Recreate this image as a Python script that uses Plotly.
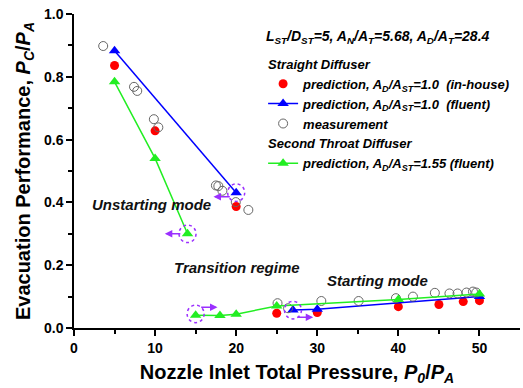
import plotly.graph_objects as go

# ---- data ----
red_x = [5, 10, 20, 25, 30, 40, 45, 48, 50]
red_y = [0.836, 0.628, 0.387, 0.047, 0.049, 0.068, 0.075, 0.084, 0.087]

blue_x = [5, 20, None, 27, 30, 50]
blue_y = [0.883, 0.431, None, 0.057, 0.060, 0.100]

meas_x = [3.6, 7.4, 7.8, 9.85, 10.4, 17.5, 17.8, 18.3, 19.95, 21.5,
          25.1, 26.4, 30.5, 35.1, 39.7, 41.8, 44.5, 46.3, 47.3, 48.4, 49.2, 49.6]
meas_y = [0.898, 0.768, 0.755, 0.665, 0.639, 0.454, 0.452, 0.437, 0.401, 0.376,
          0.079, 0.063, 0.086, 0.086, 0.095, 0.100, 0.112, 0.110, 0.110, 0.113, 0.116, 0.113]

green_x = [5, 10, 14, None, 15, 18, 20, 25, 40, 50]
green_y = [0.784, 0.540, 0.300, None, 0.041, 0.040, 0.044, 0.070, 0.091, 0.108]

# arrows: (tail_x, tail_y, head_x, head_y)
arrows = [(19.4, 0.418, 17.2, 0.418), (13.3, 0.300, 11.2, 0.300),
          (15.5, 0.066, 17.7, 0.066), (27.4, 0.034, 29.5, 0.034)]
# dotted circles around transition points: (x, y)
circles = [(20, 0.431), (14, 0.300), (15, 0.045), (27, 0.057)]

labels = [("Unstarting mode", 9.5, 0.392), ("Transition regime", 20.1, 0.194),
          ("Starting mode", 37.4, 0.15)]

FONT = "Liberation Sans, Arial, sans-serif"
PURPLE = "#9b30ff"

fig = go.Figure()
fig.add_trace(go.Scatter(x=red_x, y=red_y, mode="markers",
    marker=dict(symbol="circle", size=9, color="#ff0000"),
    name="prediction, A<sub>D</sub>/A<sub>ST</sub>=1.0&nbsp;&nbsp;(in-house)",
    legendgroup="sd", legendgrouptitle_text="Straight Diffuser"))
fig.add_trace(go.Scatter(x=blue_x, y=blue_y, mode="lines+markers",
    line=dict(color="#0000ff", width=1.5),
    marker=dict(symbol="triangle-up", size=10, color="#0000ff"),
    name="prediction, A<sub>D</sub>/A<sub>ST</sub>=1.0&nbsp;&nbsp;(fluent)",
    legendgroup="sd"))
fig.add_trace(go.Scatter(x=meas_x, y=meas_y, mode="markers",
    marker=dict(symbol="circle-open", size=9, color="#666666", line=dict(width=1)),
    name="measurement", legendgroup="sd"))
fig.add_trace(go.Scatter(x=green_x, y=green_y, mode="lines+markers",
    line=dict(color="#22ee22", width=1.5),
    marker=dict(symbol="triangle-up", size=10, color="#22ee22"),
    name="prediction, A<sub>D</sub>/A<sub>ST</sub>=1.55 (fluent)",
    legendgroup="st", legendgrouptitle_text="Second Throat Diffuser"))

for tx, ty, hx, hy in arrows:
    fig.add_annotation(x=hx, y=hy, ax=tx, ay=ty, xref="x", yref="y",
                       axref="x", ayref="y", text="", showarrow=True,
                       arrowhead=2, arrowsize=1, arrowwidth=1.5, arrowcolor=PURPLE)
for cx, cy in circles:
    fig.add_shape(type="circle", xref="x", yref="y",
                  x0=cx - 1.05, x1=cx + 1.05, y0=cy - 0.028, y1=cy + 0.028,
                  line=dict(color=PURPLE, width=1.5, dash="dot"))
for t, x, y in labels:
    fig.add_annotation(x=x, y=y, text=t, showarrow=False, xref="x", yref="y",
                       font=dict(family=FONT, size=15, color="#111111",
                                 weight="bold", style="italic"))

fig.add_annotation(x=0.426, y=0.928, xref="paper", yref="paper",
                   xanchor="left", yanchor="middle", showarrow=False,
                   text="L<sub>ST</sub>/D<sub>ST</sub>=5, A<sub>N</sub>/A<sub>T</sub>=5.68, A<sub>D</sub>/A<sub>T</sub>=28.4",
                   font=dict(family=FONT, size=14, color="black", weight="bold", style="italic"))

fig.update_layout(
    width=523, height=388,
    margin=dict(l=74, r=3, t=14, b=60, autoexpand=False),
    plot_bgcolor="white", paper_bgcolor="white",
    font=dict(family=FONT, color="black"),
    legend=dict(x=0.424, y=0.889, xanchor="left", yanchor="top",
                bgcolor="rgba(0,0,0,0)", tracegroupgap=0,
                font=dict(size=13, weight="bold", style="italic"),
                grouptitlefont=dict(size=13, weight="bold", style="italic"),
                itemwidth=30),
    xaxis=dict(range=[0, 55], showgrid=False, zeroline=False,
               showline=True, linecolor="black", linewidth=1.5,
               ticks="outside", tickwidth=1.5, ticklen=6, tickcolor="black",
               tickvals=[0, 10, 20, 30, 40, 50],
               minor=dict(tickvals=[5, 15, 25, 35, 45], ticks="outside", ticklen=4, tickwidth=1.5, tickcolor="black"),
               tickfont=dict(size=14, weight="bold"),
               title=dict(text="Nozzle Inlet Total Pressure, <i>P<sub>0</sub></i>/<i>P<sub>A</sub></i>",
                          font=dict(size=20, weight="bold"), standoff=10)),
    yaxis=dict(range=[0, 1.0], showgrid=False, zeroline=False,
               showline=True, linecolor="black", linewidth=1.5,
               ticks="outside", tickwidth=1.5, ticklen=6, tickcolor="black",
               tickvals=[0, 0.2, 0.4, 0.6, 0.8, 1.0], tickformat=".1f",
               minor=dict(tickvals=[0.1, 0.3, 0.5, 0.7, 0.9], ticks="outside", ticklen=4, tickwidth=1.5, tickcolor="black"),
               tickfont=dict(size=14, weight="bold"),
               title=dict(text="Evacuation Performance, <i>P<sub>C</sub></i>/<i>P<sub>A</sub></i>",
                          font=dict(size=20, weight="bold"), standoff=8)),
)

fig.write_html("out.html", config={"displayModeBar": False},
               post_script="document.body.style.margin='0';document.body.style.padding='0';")
